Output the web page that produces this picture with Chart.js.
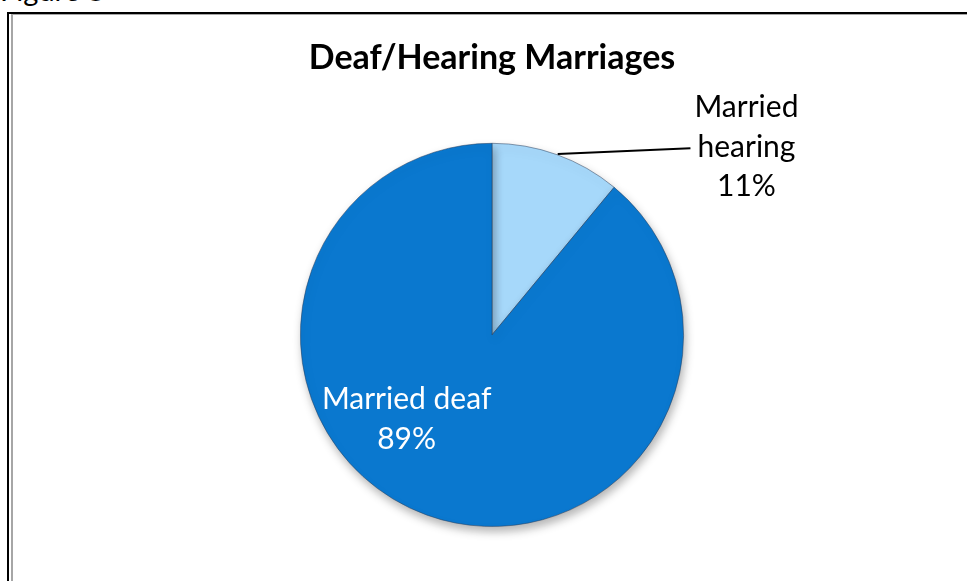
<!DOCTYPE html>
<html>
<head>
<meta charset="utf-8">
<script src="https://cdn.jsdelivr.net/npm/chart.js@4.4.1/dist/chart.umd.min.js"></script>
<style>
  html, body { margin: 0; padding: 0; background: #fff; overflow: hidden; }
  body { width: 967px; height: 581px; position: relative; font-family: Lato, "Open Sans", sans-serif; }
  #fig-label { position: absolute; left: 0px; top: -27px; font-size: 29px; color: #000; line-height: 34px; }
  #frame { position: absolute; left: 7px; top: 12px; width: 1000px; height: 620px; border-left: 2px solid #000; border-top: 2px solid #000; }
  #frame-inner { position: absolute; left: 2px; top: 0; width: 1000px; height: 620px; border-left: 2px solid #a6a6a6; border-top: 1px solid #a6a6a6; }
  #wrap { position: absolute; left: 0; top: 0; width: 967px; height: 581px; }
</style>
</head>
<body>
<div id="fig-label">Figure 8</div>
<div id="frame"><div id="frame-inner"></div></div>
<div id="wrap"><canvas id="pie"></canvas></div>
<script>
const categories = ["Married hearing", "Married deaf"];
const shares = [11, 89];
const sliceColors = ["#a6d8fa", "#0a78cf"];
const edgeColors = ["#d4edff", "#0860a8"];

// radial shading so the rim looks bevelled
function sliceFill(context) {
  const i = context.dataIndex;
  const arc = context.element;
  const chart = context.chart;
  if (!arc || !chart.chartArea) return sliceColors[i];
  const props = arc.getProps(["x", "y", "outerRadius"], true);
  if (!props.outerRadius) return sliceColors[i];
  const g = chart.ctx.createRadialGradient(props.x, props.y, 0, props.x, props.y, props.outerRadius);
  g.addColorStop(0, sliceColors[i]);
  g.addColorStop(0.92, sliceColors[i]);
  g.addColorStop(1, edgeColors[i]);
  return g;
}

const dropShadow = {
  id: "dropShadow",
  beforeDatasetsDraw(chart) {
    const ctx = chart.ctx;
    ctx.save();
    ctx.shadowColor = "rgba(0,0,0,0.3)";
    ctx.shadowBlur = 10;
    ctx.shadowOffsetX = 2;
    ctx.shadowOffsetY = 5;
  },
  afterDatasetsDraw(chart) {
    chart.ctx.restore();
  }
};

const sliceLabels = {
  id: "sliceLabels",
  afterDatasetsDraw(chart) {
    const ctx = chart.ctx;
    const meta = chart.getDatasetMeta(0);
    ctx.save();
    ctx.font = "30px Lato, 'Open Sans', sans-serif";
    ctx.textAlign = "center";
    ctx.textBaseline = "middle";

    // small slice: label outside with a leader line
    const a0 = meta.data[0];
    const r = a0.outerRadius;
    const lead = -Math.PI / 2 + 0.35;
    const sx = a0.x + Math.cos(lead) * r;
    const sy = a0.y + Math.sin(lead) * r;
    const tx = a0.x + r * 1.328;
    const ty = a0.y - r * 1.0;
    ctx.strokeStyle = "#000";
    ctx.lineWidth = 2;
    ctx.beginPath();
    ctx.moveTo(sx, sy - 1);
    ctx.lineTo(tx - 56, ty + 5);
    ctx.stroke();
    ctx.fillStyle = "#000";
    ctx.fillText("Married", tx, ty - 36);
    ctx.fillText("hearing", tx, ty + 4);
    ctx.fillText(shares[0] + "%", tx, ty + 43);

    // big slice: label inside, lower left
    const a1 = meta.data[1];
    const ang = Math.PI * 0.75;
    const lx = a1.x + Math.cos(ang) * r * 0.63;
    const ly = a1.y + Math.sin(ang) * r * 0.63;
    ctx.fillStyle = "#fff";
    ctx.fillText("Married deaf", lx, ly - 21);
    ctx.fillText(shares[1] + "%", lx, ly + 19);
    ctx.restore();
  }
};

new Chart(document.getElementById("pie"), {
  type: "pie",
  data: {
    labels: categories,
    datasets: [{
      data: shares,
      backgroundColor: sliceFill,
      borderColor: "rgba(40,60,90,0.5)",
      borderWidth: 1,
      hoverOffset: 0
    }]
  },
  plugins: [dropShadow, sliceLabels],
  options: {
    responsive: true,
    maintainAspectRatio: false,
    animation: false,
    layout: { padding: { left: 17, right: 0, top: 0, bottom: 54 } },
    plugins: {
      legend: { display: false },
      tooltip: { enabled: false },
      title: {
        display: true,
        text: "Deaf/Hearing Marriages",
        color: "#000",
        font: { family: "Lato, 'Open Sans', sans-serif", size: 34, weight: "bold", lineHeight: 1.2 },
        padding: { top: 38, bottom: 64 }
      }
    }
  }
});
</script>
</body>
</html>
